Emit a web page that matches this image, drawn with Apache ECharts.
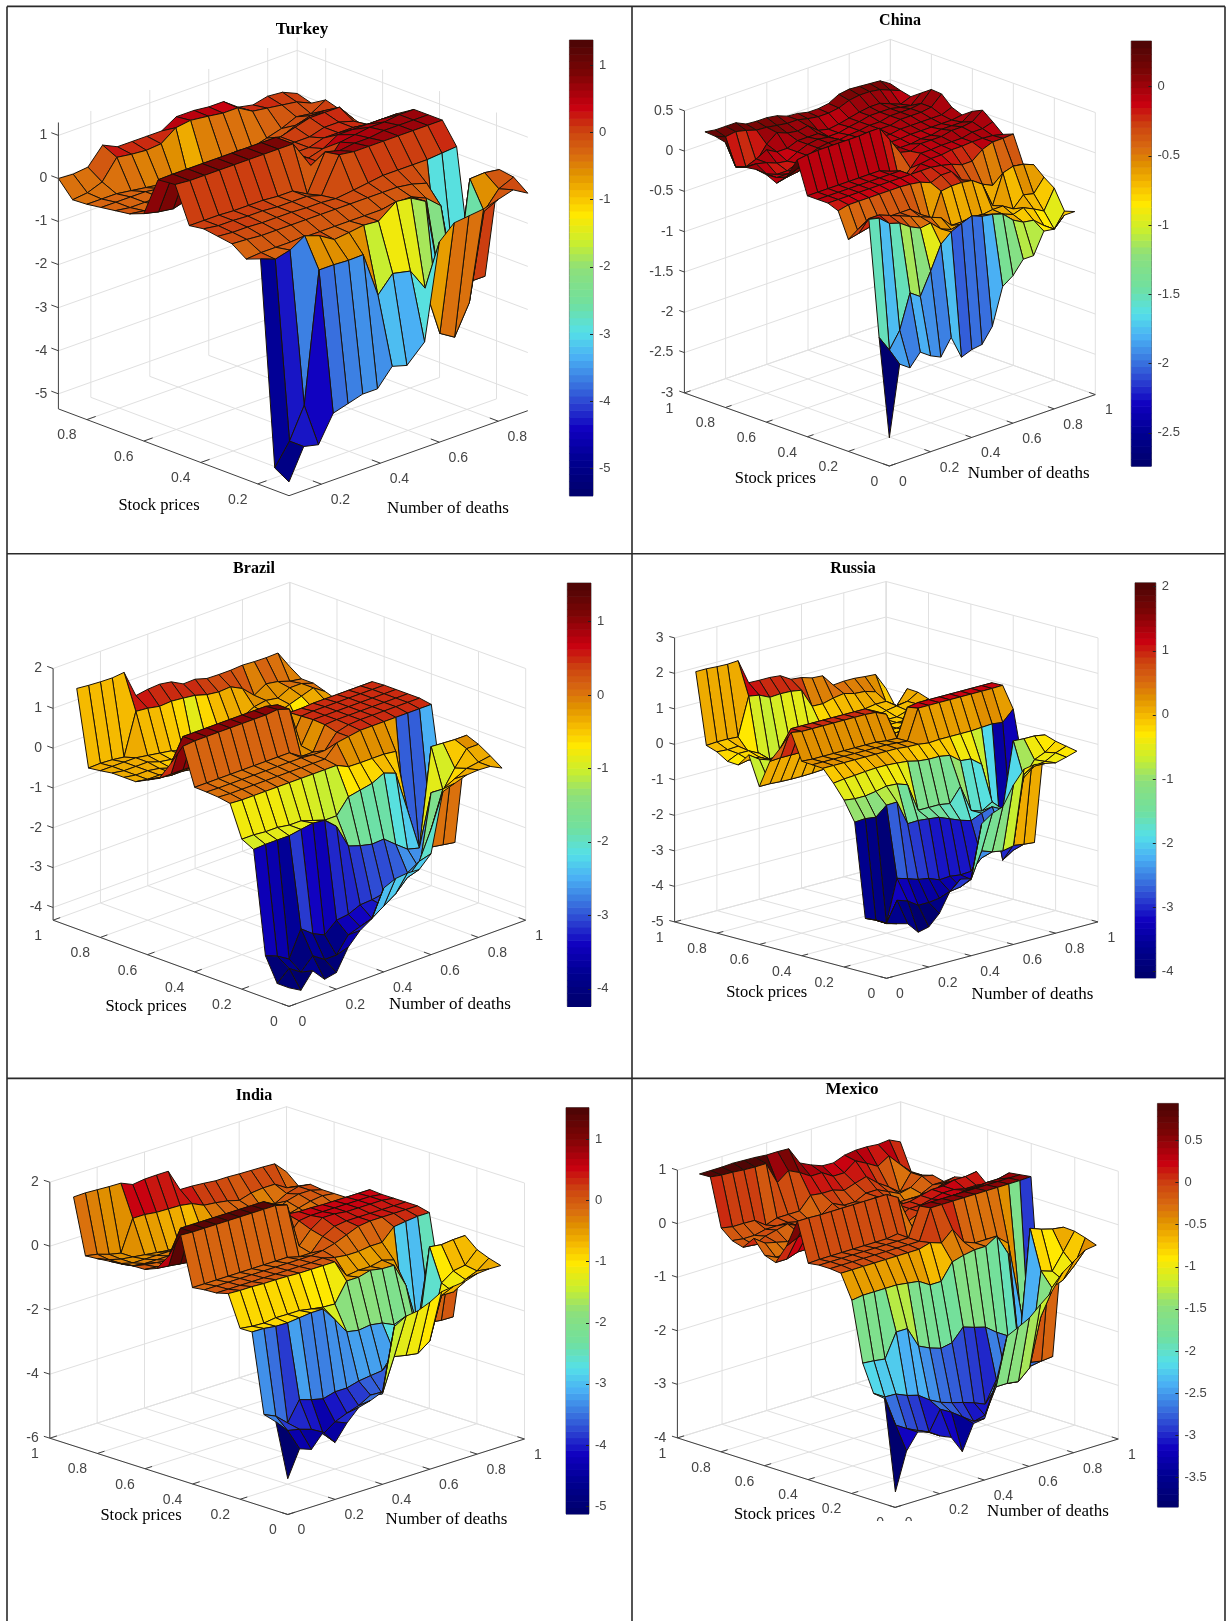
<!DOCTYPE html>
<html><head><meta charset="utf-8"><style>html,body{margin:0;padding:0;background:#fff}#c{width:1228px;height:1621px}</style>
<script src="https://cdn.jsdelivr.net/npm/echarts@6/dist/echarts.min.js"></script></head><body><div id="c"></div>
<script>
const grid19=[.05,.1,.15,.2,.25,.3,.35,.4,.45,.5,.55,.6,.65,.7,.75,.8,.85,.9,.95];
const grid17=[.09,.14,.19,.24,.29,.34,.39,.44,.49,.55,.6,.65,.7,.75,.8,.85,.9];
// rows run from the highest stock-price quantile (back) to the lowest (front); columns: number-of-deaths quantile
const turkey=[
[0,-.02,.02,.41,.25,.25,.25,.25,.46,.46,.42,.42,.17,.1,.18,.15,0],
[-.37,-.33,-.2,.25,.2,.17,.2,.45,.5,.45,.4,.4,.2,.15,.1,.05,-.1],
[-.35,-.35,-.35,-.4,-.45,-.5,-.6,-.75,-.5,-.4,-.35,-.4,-.3,-.2,-.05,-.1,.1],
[-.3,-.3,-.3,-.3,-.35,-.4,-.45,-.45,-.35,-.3,-.25,-.2,-.15,0,.1,.1,0],
[-.25,-.3,-.3,-.3,-.3,-.3,-.3,-.1,.1,.1,-.1,.1,.2,.3,.3,.3,-.1],
[-.2,-.25,-.25,-.2,-.1,-.1,-.1,.1,.2,.2,.1,.1,.1,.2,.2,.1,-.2],
[-.07,-.15,-.2,-.1,-.1,-.1,0,.1,.1,.1,.1,.1,.2,.2,.2,.15,.15],
[.84,.85,.85,.85,.85,.85,.85,.85,.85,.3,.1,.2,.4,.4,.4,.4,.4],
[.88,.85,.85,.85,.85,.85,.85,.85,.85,.2,.1,.5,.55,.6,.6,.65,.65],
[.05,.05,.05,.03,.03,.03,0,0,-.19,.64,.55,.6,.6,.65,.65,.65,.65],
[.1,.05,.05,.03,.03,0,0,0,-.1,.7,.65,.65,.65,.65,.65,.65,.65],
[.05,.02,.02,0,0,0,-.02,-.02,-.05,0,.05,.1,.1,.1,.1,.13,.16],
[0,-.02,-.05,-.05,-.05,-.05,-.05,-.05,-.05,-.05,-.05,-.05,-.1,-.2,-2.9,-2.9,-2.5],
[-.23,-.2,-.2,-.2,-.2,-.2,-.2,-.2,-.2,-.2,-.15,-.15,-.3,-.6,-2.6,-2.6,-2.6],
[-.1,-.23,-.14,.07,-.05,-.26,-.22,-.17,-.2,.11,.07,-.13,-2.2,-2.5,.03,.05,0],
[-4.83,-4.33,-3.62,-.6,-.6,-.62,-.61,-1.67,-1.29,-1.38,-1.9,-3.07,-3.28,-2.6,-.6,-.2,-.05],
[-5.03,-4.33,-4.41,-3.8,-3.7,-3.6,-3.6,-3.2,-3.3,-2.9,-.7,-.38,-.34,-.3,-.2,-.1,-.3]];
const china=[
[.24,.22,.22,.22,.16,.15,.15,.13,.08,.07,.04,.04,.06,.13,.15,.14,.13,.12,.04],
[.23,.18,.2,.17,.13,.12,.1,.08,.08,.05,.03,.03,.05,.1,.12,.12,.1,.05,0],
[.2,-.15,-.2,-.17,0,.1,.05,.03,.05,-.05,-.08,-.06,-.03,0,.02,.02,-.03,-.08,-.03],
[-.06,-.1,-.05,.02,-.05,-.05,0,0,0,-.08,-.08,-.05,-.03,0,0,0,-.03,-.05,.06],
[-.02,-.02,-.05,-.1,-.12,-.05,0,.02,0,-.08,-.06,-.05,-.03,-.03,0,0,0,.02,.15],
[0,-.1,-.15,-.15,-.1,-.05,0,.02,.02,-.06,-.05,-.05,-.03,-.03,0,0,0,.02,.14],
[-.02,-.1,-.1,-.1,-.05,0,0,0,0,-.06,-.05,-.05,-.05,-.03,-.03,-.03,-.03,-.03,.02],
[-.08,-.05,-.03,0,0,0,0,0,.03,-.05,-.05,-.06,-.06,-.05,-.05,-.05,-.05,-.05,-.03],
[.05,.1,.1,.1,.1,.12,.12,.12,.12,.1,-.05,-.08,-.08,-.06,-.06,-.03,-.03,-.03,.06],
[.3,.32,.33,.33,.33,.33,.33,.34,.34,.15,-.05,-.08,-.03,-.03,-.03,0,0,.02,.12],
[-.1,-.1,-.1,-.1,-.1,-.1,-.1,-.1,-.15,-.35,-.2,-.06,-.06,-.05,-.05,-.05,-.02,-.02,.02],
[-.1,-.1,-.1,-.1,-.1,-.1,-.1,-.1,-.1,-.2,-.1,-.08,-.08,-.06,-.06,-.05,-.05,-.06,-.09],
[-.1,-.1,-.1,-.1,-.1,-.1,-.1,-.1,-.1,-.1,-.1,-.12,-.15,-.2,-.2,-.1,-.05,-.05,-.04],
[-.15,-.12,-.12,-.12,-.12,-.12,-.12,-.13,-.15,-.2,-.15,-.15,-.3,-.37,-.44,-.5,-.42,-.35,-.38],
[-.46,-.43,-.4,-.35,-.35,-.35,-.35,-.46,-.6,-.26,-.24,-.24,-.26,-.35,-.66,-.3,-.26,-.28,-.33],
[-.28,-.2,-.2,-.25,-.3,-.35,-.4,-.45,-.5,-.64,-.64,-.62,-.64,-.62,-.62,-.7,-.57,-.6,-.44],
[-.12,-.15,-.26,-.3,-.39,-.45,-.43,-.55,-.6,-.58,-.55,-.55,-.59,-.63,-.68,-.64,-.7,-.77,-.53],
[-1.54,-1.74,-1.54,-1.12,-1.21,-.94,-.65,-.54,-.48,-.43,-.48,-.5,-.54,-.66,-.73,-.75,-.86,-.95,-.77],
[-2.74,-1.87,-1.96,-1.81,-1.9,-1.96,-1.76,-2.05,-2,-1.98,-1.8,-1.35,-1.26,-1.1,-1.1,-.84,-.86,-.73,-.73]];
const brazil=[
[1.5,1.47,1.45,1.44,1.47,.78,.83,.85,.8,.64,.65,.56,.55,.55,.57,.55,.54,.55,.1],
[-.39,-.38,-.4,-.44,.6,.57,.51,.53,.5,.46,.37,.33,.35,.2,-.08,.1,.05,-.05,-.1],
[-.35,-.35,-.35,-.35,-.4,-.45,-.5,-.6,-.85,-.6,-.4,-.35,-.3,-.15,-.1,-.15,0,0,-.1],
[-.3,-.35,-.35,-.35,-.45,-.5,-.5,-.5,-.6,-.5,-.4,-.4,-.3,-.2,-.3,-.2,-.1,0,-.2],
[-.3,-.35,-.35,-.4,-.5,-.5,-.5,-.5,-.5,-.5,-.4,-.4,-.35,-.3,-.4,-.7,-.3,-.2,-.3],
[-.3,-.35,-.35,-.4,-.45,-.45,-.45,-.45,-.4,-.4,-.4,-.4,-.4,-.4,-.4,-.4,-.3,-.3,-.3],
[-.15,-.2,-.25,-.25,-.3,-.3,-.3,-.3,-.3,-.3,-.3,-.3,-.3,-.3,-.3,-.3,-.3,-.3,-.3],
[0,0,0,0,0,0,0,0,0,0,-.1,.46,.46,.48,.48,.48,.48,.48,.48],
[.49,1.05,1.05,1.05,1.05,1.05,1.05,1.05,1.05,.98,-.1,.48,.5,.5,.5,.5,.5,.5,.5],
[1.02,1.05,1.05,1.05,1.05,1.05,1.05,1.05,1.08,.98,-.05,.5,.5,.5,.5,.5,.5,.5,.5],
[.1,.1,.1,.1,.1,.1,.1,.1,.1,-.1,-.1,.48,.5,.5,.5,.5,.5,.5,.5],
[.09,.08,.08,.08,.08,.08,.08,.08,.08,.05,.05,.4,.48,.5,.5,.5,.5,.5,.5],
[.07,.05,.05,.05,.05,.05,.05,.05,.05,.05,.35,.4,.45,.45,.45,.45,.45,.45,.45],
[.02,0,0,0,0,0,0,0,0,0,-.14,-.15,-.15,-.15,-.19,-2.9,-2.9,-2.5,-1.7],
[-.77,-.77,-.8,-.8,-.85,-.85,-.95,-1.05,-1.05,-.68,-.62,-.56,-.41,-.52,-1.56,-2.7,-2.7,-2.75,-2.8],
[-.92,-.9,-.9,-.9,-.85,-.8,-.84,-1.1,-1.7,-1.8,-1.87,-1.85,-2.09,-2.32,-2.4,.04,.02,0,0],
[-3.48,-3.6,-3.78,-3.13,-3.36,-3.5,-3.24,-3.2,-3.07,-3.05,-3,-2.9,-2.7,-2.7,-.9,-.95,-.5,-.12,-.12],
[-4.07,-3.8,-4,-3.7,-3.9,-3.9,-3.5,-3.4,-3.3,-3.1,-2.9,-2.6,-2.3,-1.6,-.7,-.55,-.4,-.35,-.3],
[-4.07,-4.24,-3.86,-4.18,-4.12,-3.59,-3.28,-3.09,-2.43,-2.3,-2.27,-2.29,-2,-.55,-.45,-.35,-.33,-.35,-.5]];
const russia=[
[2.05,2.05,2.03,2.02,2.04,1.34,1.33,1.33,1.3,1.12,1.09,1,.98,.64,.67,.67,.64,.62,.14],
[.05,.07,.07,.05,1.12,1.07,.93,.95,.94,.89,.36,.35,.43,.48,.4,.38,.29,-.08,-.35],
[-.05,-.07,-.05,-.3,-.6,-.65,-.6,-.5,-.45,-.5,-.2,-.1,0,0,.05,.1,.1,-.1,.3],
[-.24,-.1,-.1,-.25,-.5,-.55,-.55,-.5,-.4,-.35,-.2,-.1,-.1,-.1,-.1,0,.05,.1,.28],
[-.26,-.2,-.2,-.35,-.5,-.55,-.55,-.5,-.4,-.3,-.2,-.1,-.1,-.1,-.1,-.1,0,.1,.17],
[.1,-.1,-.2,-.3,-.4,-.45,-.4,-.3,-.2,-.15,-.1,-.1,-.1,-.1,-.1,-.1,-.1,-.1,0],
[-.71,-.71,-.73,-.74,-.74,-.73,-.71,-.5,-.4,-.3,-.2,-.1,-.1,-.1,-.05,0,0,0,0],
[.08,.1,.1,.1,.1,.1,.1,.1,.1,.1,.05,-.1,-.1,-.05,0,0,0,0,.3],
[.54,1,1,1,1,1,1,1,1,.85,.1,.1,.1,.1,.1,.1,.2,.2,.2],
[1.05,1,1,1,1,1,1,1,.98,.85,.1,.2,.2,.2,.2,.3,.4,.4,.4],
[.32,.3,.3,.3,.3,.3,.3,.3,.26,.25,1.05,1.1,1.1,1.1,1.1,1.1,1.1,1.1,1.1],
[.3,.3,.3,.3,.3,.3,.3,.3,.28,.25,1.1,1.1,1.1,1.1,1.1,1.1,1.1,1.1,1.11],
[.28,.28,.28,.28,.28,.28,.28,.28,.25,.24,.2,.22,.22,.22,.22,.24,.26,.22,.52],
[-.06,-.02,0,.03,.05,.05,.03,0,-.07,-.1,-.1,-.15,-.38,-.41,-.64,-1.9,-3.5,-3.3,-1.1],
[-.46,-.5,-.5,-.45,-.38,-.4,-.5,-1.3,-1.3,-1.3,-1.35,-.95,-1.7,-1.8,-1.62,-3.03,-3,-3.05,-3.08],
[-1,-.98,-1.02,-.76,-.75,-1.44,-1.43,-1.46,-1.5,-1.62,-1.74,-1.83,-1.7,-1.6,-1.75,.1,.08,.08,.03],
[-3.63,-3.76,-3.93,-2.74,-2.83,-2.93,-2.98,-3.1,-3.08,-3.12,-3.1,-2.8,-2.6,-2.3,-1.9,-.85,-.43,-.3,-.07],
[-3.6,-3.77,-3.2,-3.3,-3.5,-3.5,-3.46,-3.35,-3.3,-3.17,-2.44,-2.55,-2.6,-2.54,-.6,-.45,-.4,-.24,-.13],
[-3.62,-3.7,-3.78,-4.1,-4.03,-3.73,-3.19,-2.92,-2.99,-1.52,-1.31,-1.2,-.67,-.3,-.25,-.3,-.36,-.28,-.19]];
const india=[
[1.54,1.55,1.53,1.51,1.5,1.34,1.39,1.4,1.4,.71,.7,.67,.63,.63,.61,.6,.59,.57,.2],
[-.18,-.25,-.37,-.45,.52,.52,.47,.46,.45,.39,.22,.18,.12,.02,.13,.17,.17,-.06,-.12],
[-.15,-.3,-.4,-.45,-.5,-.55,-.6,-.65,-.75,-.5,-.2,-.1,-.05,-.1,-.25,-.2,0,.1,.05],
[-.11,-.3,-.4,-.4,-.4,-.4,-.4,-.4,-.4,-.4,-.3,-.2,-.2,-.2,-.2,0,.1,.1,0],
[-.08,-.25,-.3,-.3,-.3,-.3,-.3,-.3,-.3,-.3,-.3,-.3,-.3,-.3,-.2,-.1,0,.05,0],
[-.02,-.1,-.15,-.2,-.2,-.2,-.2,-.2,-.2,-.2,-.2,-.2,-.2,-.2,-.2,-.2,-.1,-.1,0],
[-.01,-.05,-.1,-.1,-.1,-.1,-.1,-.1,-.1,-.1,-.1,-.1,-.1,-.1,-.1,-.1,-.1,-.1,-.1],
[.14,.1,.05,0,0,0,0,0,0,0,.1,.54,.5,.5,.48,.48,.48,.48,.48],
[.65,1.4,1.4,1.4,1.4,1.4,1.4,1.4,1.4,1.2,.05,.45,.5,.5,.5,.5,.5,.5,.45],
[1.42,1.4,1.4,1.4,1.4,1.4,1.4,1.4,1.4,1.3,-.1,.3,.55,.55,.5,.5,.5,.5,.45],
[-.1,-.1,-.1,-.1,-.1,-.1,-.1,-.1,-.1,-.2,-.2,.2,.4,.45,.45,.45,.45,.45,.45],
[-.05,-.05,-.05,-.05,-.05,-.05,-.05,-.05,-.05,-.05,0,.1,.25,.4,.45,.45,.45,.45,.45],
[-.03,-.03,-.03,-.03,-.03,-.03,-.03,-.03,-.03,0,-.1,-.15,-.15,-.1,-.1,.27,.32,.36,.36],
[.07,.05,.05,.03,.03,.02,0,0,0,0,-.55,-.5,-.5,-.42,-.53,-2.9,-3,-2.5,-1.9],
[-.9,-.95,-.97,-.92,-.93,-.93,-1,-1.06,-1.08,-.48,-.48,-.38,-.45,-.46,-1.2,-2.6,-2.6,-2.65,-2.66],
[-.89,-.9,-.95,-.96,-.92,-.88,-.88,-1.33,-1.83,-1.9,-1.85,-1.91,-2.08,-1.93,-2.7,0,-.05,-.01,0],
[-3.35,-3.52,-3.85,-3.24,-3.36,-3.45,-3.35,-3.35,-3.25,-3.2,-3.16,-2.7,-2.74,-2.8,-2.6,-1.01,-.75,-.69,-.32],
[-3.46,-3.85,-3.93,-4.05,-4.31,-4.05,-3.9,-3.78,-3.57,-3.65,-2.6,-2.68,-2.74,-2.47,-1.16,-1.17,-.9,-.75,-.47],
[-5.12,-4.3,-4.44,-4.02,-4.46,-3.97,-3.6,-3.5,-3.35,-1.43,-1.22,-1.17,-1.02,-.81,-.76,-.72,-.6,-.57,-.58]];
const mexico=[
[.93,.93,.93,.94,.93,.92,.9,.9,.89,.56,.46,.38,.37,.45,.48,.48,.46,.48,.38],
[.94,.91,.9,.88,.87,.87,.45,.61,.51,.38,.38,.25,.25,.41,.3,.18,.31,.09,-.11],
[.05,.01,.01,0,-.15,-.08,-.08,-.08,.15,.12,.12,.05,.12,.18,0,-.14,-.3,0,-.11],
[-.12,-.15,-.15,-.1,-.1,-.1,-.15,-.2,-.15,0,-.1,-.1,0,0,-.1,-.2,-.15,0,-.05],
[-.18,-.2,-.1,-.05,0,-.1,-.1,-.15,-.1,-.1,-.1,-.05,0,-.1,-.3,-.4,-.2,-.1,-.1],
[.05,-.1,-.15,-.2,-.1,-.1,-.15,-.15,-.15,-.15,-.1,-.1,-.1,-.1,-.1,-.1,-.1,0,.05],
[-.2,-.3,-.3,-.3,-.3,-.3,-.25,-.2,-.1,-.1,-.1,-.1,-.1,-.1,0,0,.1,.1,.1],
[-.27,-.27,-.2,-.2,-.2,-.2,-.2,-.15,-.1,-.1,-.05,.1,.1,.15,.2,.2,.25,.25,.28],
[.1,.2,.25,.25,.25,.25,.25,.25,.25,.2,0,.1,.1,.15,.2,.2,.15,.15,.1],
[.63,.63,.62,.62,.62,.62,.62,.62,.62,.5,0,.1,.2,.2,.2,.25,.25,.25,.2],
[-.09,-.08,-.08,-.08,-.08,-.08,-.08,-.08,-.05,-.28,-.3,.3,.3,.35,.35,.35,.4,.4,.45],
[-.06,-.06,-.06,-.06,-.06,-.06,-.06,-.06,-.06,.47,.48,.48,.48,.48,.48,.48,.48,.48,.48],
[-.06,-.06,-.06,-.06,-.06,-.06,-.06,-.06,-.06,.5,.5,.5,.5,.5,.5,.5,.5,.5,.51],
[-.08,-.08,-.08,-.08,-.08,-.08,-.08,-.08,-.02,-.09,.1,-.2,-.28,-.28,-.3,-.48,-1.66,-2.9,-2.3],
[-.52,-.49,-.49,-.49,-.49,-.52,-.55,-.68,-.68,-.38,-.32,-.28,-.28,-.15,-.54,-2.4,-2.7,-2.74,-2.72],
[-1.63,-1.65,-1.68,-1.24,-1.24,-1.63,-1.73,-1.8,-1.76,-1.53,-1.6,-1.66,-1.82,-1.95,-2.3,-.07,-.15,-.21,-.24],
[-2.13,-2.26,-2.27,-2.36,-2.42,-2.57,-2.68,-2.75,-2.81,-2.88,-2.97,-2.58,-2.71,-2.71,-2.4,-.8,-.87,-.57,-.25],
[-2.16,-2.72,-2.85,-2.95,-3.05,-2.68,-2.8,-2.95,-3.1,-3.05,-2.58,-2.58,-2.61,-2.42,-1.53,-1.05,-.97,-.77,-.31],
[-3.84,-3.14,-2.85,-2.91,-3.05,-3.14,-3.47,-3.01,-2.98,-2.39,-1.57,-1.47,-1.36,-1.17,-1,-.7,-.55,-.41,-.38]];
const ticks01=[0,.2,.4,.6,.8,1], ticksT=[.2,.4,.6,.8];
const zTicksTurkey=[-5,-4,-3,-2,-1,0,1], zTicksChina=[-3,-2.5,-2,-1.5,-1,-.5,0,.5], zTicksBrazil=[-4,-3,-2,-1,0,1,2], zTicksRussia=[-5,-4,-3,-2,-1,0,1,2,3], zTicksIndia=[-6,-4,-2,0,2], zTicksMexico=[-4,-3,-2,-1,0,1];
const cbTicksTurkey=[-5,-4,-3,-2,-1,0,1], cbTicksChina=[-2.5,-2,-1.5,-1,-.5,0], cbTicksBrazil=[-4,-3,-2,-1,0,1], cbTicksRussia=[-4,-3,-2,-1,0,1,2], cbTicksIndia=[-5,-4,-3,-2,-1,0,1], cbTicksMexico=[-3.5,-3,-2.5,-2,-1.5,-1,-.5,0,.5];
const panels=[
{name:'Turkey',m:turkey,g:grid17,x0:.09,x1:.9,L:[58.4,408.9],F:[289,495.7],R:[527.8,410.7],zmin:-5.35,zmax:1.3,zs:43.07,zT:zTicksTurkey,t:ticksT,cl:[-5.41,1.38],cb:[569.4,593,40,495.7],cbT:cbTicksTurkey,title:[302,30,17],sl:[159,506],dl:[448,509]},
{name:'China',m:china,g:grid19,x0:0,x1:1,L:[684.4,392.9],F:[889.3,466],R:[1095.3,394.6],zmin:-3,zmax:.5,zs:80.6,zT:zTicksChina,t:ticks01,cl:[-2.74,.33],cb:[1131.2,1151.5,41,466],cbT:cbTicksChina,title:[900,21,16],sl:[775.3,478.6],dl:[1028.6,474]},
{name:'Brazil',m:brazil,g:grid19,x0:0,x1:1,L:[53.1,920.2],F:[289,1006.4],R:[525.7,920.2],zmin:-4.32,zmax:2,zs:39.82,zT:zTicksBrazil,t:ticks01,cl:[-4.24,1.525],cb:[567.3,591,583,1006.4],cbT:cbTicksBrazil,title:[254,569,16],sl:[146,1007],dl:[450,1004.7]},
{name:'Russia',m:russia,g:grid19,x0:0,x1:1,L:[674.6,921.9],F:[886.5,978.3],R:[1098,921.9],zmin:-5,zmax:3,zs:35.5,zT:zTicksRussia,t:ticks01,cl:[-4.1,2.06],cb:[1135,1155.8,582.8,977.7],cbT:cbTicksRussia,title:[853,568.6,16],sl:[766.7,992.9],dl:[1032.5,994.6]},
{name:'India',m:india,g:grid19,x0:0,x1:1,L:[49.8,1438.2],F:[287.8,1514.5],R:[524.5,1439],zmin:-6,zmax:2,zs:32,zT:zTicksIndia,t:ticks01,cl:[-5.125,1.52],cb:[566,589,1107.6,1513.8],cbT:cbTicksIndia,title:[254,1096,16],sl:[141,1516],dl:[446.5,1519.8]},
{name:'Mexico',m:mexico,g:grid19,x0:0,x1:1,L:[677.4,1437.9],F:[895.1,1507.4],R:[1118.3,1439],zmin:-4,zmax:1,zs:53.55,zT:zTicksMexico,t:ticks01,cl:[-3.85,.94],cb:[1157.4,1178.4,1103.4,1506.8],cbT:cbTicksMexico,title:[852,1090,17],sl:[774.5,1514.5],dl:[1048,1511.7]}];
const ramp=[[0,'#00006a'],[.077,'#000090'],[.147,'#1000c0'],[.2,'#2a40d0'],[.25,'#3a78e0'],[.305,'#4ab0f4'],[.36,'#55e0e8'],[.42,'#70e0a0'],[.5,'#8ee07a'],[.555,'#c8ee30'],[.617,'#ffe800'],[.657,'#f8c000'],[.71,'#e09000'],[.75,'#d86a10'],[.8,'#cc4410'],[.853,'#c80010'],[.93,'#7a0505'],[1,'#4a0505']];
function hex(c){return [1,3,5].map(k=>parseInt(c.substr(k,2),16));}
function rampAt(t){t=Math.max(0,Math.min(1,t));for(let k=1;k<ramp.length;k++){if(t<=ramp[k][0]){const a=ramp[k-1],b=ramp[k],f=(t-a[0])/(b[0]-a[0]),A=hex(a[1]),B=hex(b[1]);return 'rgb('+A.map((v,q)=>Math.round(v+(B[q]-v)*f)).join(',')+')';}}return ramp[ramp.length-1][1];}
function band(v,cl){const k=Math.min(63,Math.floor((v-cl[0])/(cl[1]-cl[0])*64));return rampAt((k+.5)/64);}
function P(p,x,y,z){const w=p.x1-p.x0,u=(x-p.x0)/w,v=(y-p.x0)/w;return [p.F[0]+u*(p.R[0]-p.F[0])+v*(p.L[0]-p.F[0]),p.F[1]+u*(p.R[1]-p.F[1])+v*(p.L[1]-p.F[1])-(z-p.zmin)*p.zs];}
const series=[],xAxis=[{type:'value',min:0,max:1228,show:false,gridIndex:0}],yAxis=[{type:'value',min:0,max:1621,inverse:true,show:false,gridIndex:0}],grids=[{left:0,top:0,width:1228,height:1621,show:false}],graphic=[],titles=[];
const TXT='#454545',GRID='#e0e0e0',AXIS='#404040';
panels.forEach((p,pi)=>{
 const segs=[],labels=[],x0=p.x0,x1=p.x1,zb=p.zmin,zt=p.zmax;
 p.t.forEach(t=>{segs.push([[t,x0,zb],[t,x1,zb],GRID],[[x0,t,zb],[x1,t,zb],GRID],[[t,x1,zb],[t,x1,zt],GRID],[[x1,t,zb],[x1,t,zt],GRID]);});
 segs.push([[x1,x1,zb],[x1,x1,zt],GRID]);
 p.zT.forEach(z=>{segs.push([[x0,x1,z],[x1,x1,z],GRID],[[x1,x1,z],[x1,x0,z],GRID]);});
 series.push({type:'custom',coordinateSystem:'cartesian2d',xAxisIndex:0,yAxisIndex:0,silent:true,clip:false,z:2,data:segs.map((s,k)=>[k,k]),renderItem(params,api){const s=segs[params.dataIndex],a=api.coord(P(p,...s[0])),b=api.coord(P(p,...s[1]));return {type:'line',shape:{x1:a[0],y1:a[1],x2:b[0],y2:b[1]},style:{stroke:s[2],lineWidth:1}};}});
 const n=p.g.length,cells=[];
 for(let s=2*(n-2);s>=0;s--){for(let j=Math.min(n-2,s);j>=0&&s-j<n-1;j--){cells.push([s-j,j]);}}
 const Z=(i,j)=>p.m[n-1-j][i];
 series.push({type:'custom',coordinateSystem:'cartesian2d',xAxisIndex:0,yAxisIndex:0,silent:true,clip:false,z:3,data:cells,renderItem(params,api){const i=api.value(0),j=api.value(1),g=p.g,
   pts=[[i,j],[i+1,j],[i+1,j+1],[i,j+1]].map(q=>api.coord(P(p,g[q[0]],g[q[1]],Z(q[0],q[1]))));
   return {type:'polygon',shape:{points:pts},style:{fill:band(Z(i,j),p.cl),stroke:'#1a1208',lineWidth:1,lineJoin:'round'}};}});
 const axes=[[[x0,x0,zb],[x1,x0,zb]],[[x0,x0,zb],[x0,x1,zb]],[[x0,x1,zb],[x0,x1,zt]]];
 p.t.forEach(t=>{axes.push([[t,x0,zb],[t,x0+.03,zb]],[[x0,t,zb],[x0+.03,t,zb]]);
   const wide=(t>0&&t<1),a=P(p,x0,t,zb),b=P(p,t,x0,zb),s=String(t);
   labels.push([a[0]-(wide?20:15),a[1]+16,s,'center'],[b[0]+(wide?19:13.5),b[1]+16,s,'center']);});
 p.zT.forEach(z=>{axes.push([[x0,x1,z],[x0,x1+.025,z]]);const a=P(p,x0,x1,z);labels.push([a[0]-11,a[1],String(z),'right']);});
 series.push({type:'custom',coordinateSystem:'cartesian2d',xAxisIndex:0,yAxisIndex:0,silent:true,clip:false,z:4,data:axes.map((s,k)=>[k,k]),renderItem(params,api){const s=axes[params.dataIndex],a=api.coord(P(p,...s[0])),b=api.coord(P(p,...s[1]));return {type:'line',shape:{x1:a[0],y1:a[1],x2:b[0],y2:b[1]},style:{stroke:AXIS,lineWidth:1}};}});
 series.push({type:'custom',coordinateSystem:'cartesian2d',xAxisIndex:0,yAxisIndex:0,silent:true,clip:false,z:4,data:labels.map((s,k)=>[k,k]),renderItem(params,api){const s=labels[params.dataIndex],a=api.coord([s[0],s[1]]);return {type:'text',style:{x:a[0],y:a[1],text:s[2],align:s[3],verticalAlign:'middle',fill:TXT,font:'14px "Liberation Sans"'}};}});
 const gi=pi+1,c=p.cb;
 grids.push({left:c[0],width:c[1]-c[0],top:c[2],height:c[3]-c[2],show:true,borderColor:'#666',borderWidth:1,backgroundColor:'#fff'});
 xAxis.push({type:'value',gridIndex:gi,min:0,max:1,show:false});
 yAxis.push({type:'value',gridIndex:gi,min:p.cl[0],max:p.cl[1],position:'right',z:10,splitLine:{show:false},axisLine:{show:false,onZero:false},axisTick:{show:true,inside:true,length:3,lineStyle:{color:'#222'},customValues:p.cbT},axisLabel:{color:TXT,fontFamily:'Liberation Sans',fontSize:13,margin:6,customValues:p.cbT,formatter:v=>String(v)}});
 const h=(p.cl[1]-p.cl[0])/64,bands=[];for(let k=0;k<64;k++){bands.push([0,p.cl[0]+k*h]);}
 series.push({type:'custom',coordinateSystem:'cartesian2d',xAxisIndex:gi,yAxisIndex:gi,silent:true,z:3,encode:{x:0,y:1},data:bands,renderItem(params,api){const k=params.dataIndex,a=api.coord([0,p.cl[0]+(k+1)*h]),b=api.coord([1,p.cl[0]+k*h]);return {type:'rect',shape:{x:a[0],y:a[1],width:b[0]-a[0],height:b[1]-a[1]+.6},style:{fill:rampAt((k+.5)/64)}};}});
 titles.push({text:p.name,left:p.title[0],top:p.title[1],textAlign:'center',textVerticalAlign:'middle',padding:0,textStyle:{fontFamily:'Liberation Serif',fontWeight:'bold',fontSize:p.title[2],color:'#000'}});
 graphic.push({type:'text',z:50,x:p.sl[0],y:p.sl[1],style:{text:'Stock prices',align:'center',verticalAlign:'middle',fill:'#000',font:'16.5px "Liberation Serif"'}},
              {type:'text',z:50,x:p.dl[0],y:p.dl[1],style:{text:'Number of deaths',align:'center',verticalAlign:'middle',fill:'#000',font:'17px "Liberation Serif"'}});
});
graphic.push({type:'rect',z:60,shape:{x:640,y:1521,width:588,height:100},style:{fill:'#fff'}});
[[7,6.4,7,1621],[632,6.4,632,1621],[1225,6.4,1225,1621],[7,6.4,1225,6.4],[7,553.8,1225,553.8],[7,1078.4,1225,1078.4]].forEach(s=>graphic.push({type:'line',z:70,shape:{x1:s[0],y1:s[1],x2:s[2],y2:s[3]},style:{stroke:'#2a2a2a',lineWidth:1.6}}));
const chart=echarts.init(document.getElementById('c'),null,{renderer:'canvas',width:1228,height:1621});
chart.setOption({animation:false,backgroundColor:'#fff',title:titles,grid:grids,xAxis,yAxis,series,graphic});
</script></body></html>
